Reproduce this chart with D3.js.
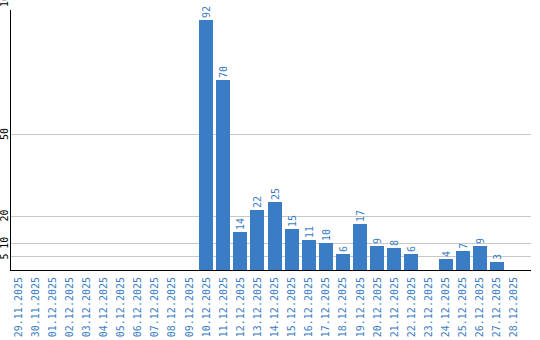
<!DOCTYPE html>
<html>
<head>
<meta charset="utf-8">
<script src="https://cdn.jsdelivr.net/npm/d3@7"></script>
<style>
  body { margin: 0; background: #fff; }
  svg { display: block; }
  text { font-family: "DejaVu Sans Mono", "Liberation Mono", monospace; }
</style>
</head>
<body>
<svg width="540" height="340"></svg>
<script>
(function() {
  // data
  const days = ['29.11.2025', '30.11.2025', '01.12.2025', '02.12.2025', '03.12.2025',
    '04.12.2025', '05.12.2025', '06.12.2025', '07.12.2025', '08.12.2025', '09.12.2025',
    '10.12.2025', '11.12.2025', '12.12.2025', '13.12.2025', '14.12.2025', '15.12.2025',
    '16.12.2025', '17.12.2025', '18.12.2025', '19.12.2025', '20.12.2025', '21.12.2025',
    '22.12.2025', '23.12.2025', '24.12.2025', '25.12.2025', '26.12.2025', '27.12.2025',
    '28.12.2025'];
  const counts = [0, 0, 0, 0, 0, 0, 0, 0, 0, 0, 0,
    92, 70, 14, 22, 25, 15, 11, 10, 6, 17, 9, 8, 6, 0, 4, 7, 9, 3, 0];
  const yTicks = [5, 10, 20, 50, 100];

  const blue = '#3b7dc4';
  const svg = d3.select('svg');

  const x = d3.scaleBand()
    .domain(days)
    .range([11, 521])
    .paddingInner(3 / 17)
    .paddingOuter(0)
    .align(0);

  const y = d3.scaleLinear()
    .domain([0, 100])
    .range([270, -2]);

  // grid lines
  svg.append('g')
    .selectAll('line')
    .data(yTicks)
    .join('line')
    .attr('x1', 10)
    .attr('x2', 531)
    .attr('y1', d => Math.round(y(d)) + 0.5)
    .attr('y2', d => Math.round(y(d)) + 0.5)
    .attr('stroke', '#c8c8c8')
    .attr('stroke-width', 1);

  // bars
  const data = days.map((d, i) => ({ day: d, v: counts[i] }));
  svg.append('g')
    .selectAll('rect')
    .data(data.filter(d => d.v > 0))
    .join('rect')
    .attr('x', d => Math.round(x(d.day)))
    .attr('width', 14)
    .attr('y', d => Math.round(y(d.v)))
    .attr('height', d => 270 - Math.round(y(d.v)))
    .attr('fill', blue);

  // value labels
  svg.append('g')
    .selectAll('text')
    .data(data.filter(d => d.v > 0))
    .join('text')
    .attr('transform', d => 'translate(' + (Math.round(x(d.day)) + 11) + ',' + (Math.round(y(d.v)) - 2) + ') rotate(-90)')
    .attr('font-size', 10)
    .attr('fill', blue)
    .text(d => d.v);

  // axes lines
  svg.append('line')
    .attr('x1', 10.5).attr('x2', 10.5)
    .attr('y1', 10).attr('y2', 271)
    .attr('stroke', '#000');
  svg.append('line')
    .attr('x1', 10).attr('x2', 531)
    .attr('y1', 270.5).attr('y2', 270.5)
    .attr('stroke', '#000');

  // y tick labels (the top one is clipped by the edge, as in the original)
  svg.append('g')
    .selectAll('text')
    .data(yTicks)
    .join('text')
    .attr('transform', d => 'translate(8,' + y(d) + ') rotate(-90)')
    .attr('text-anchor', 'middle')
    .attr('font-size', 10)
    .attr('fill', '#000')
    .text(d => d);

  // x tick labels
  svg.append('g')
    .selectAll('text')
    .data(days)
    .join('text')
    .attr('transform', d => 'translate(' + (x(d) + 10.5) + ',277) rotate(-90)')
    .attr('text-anchor', 'end')
    .attr('font-size', 10)
    .attr('fill', blue)
    .text(d => d);
})();
</script>
</body>
</html>
